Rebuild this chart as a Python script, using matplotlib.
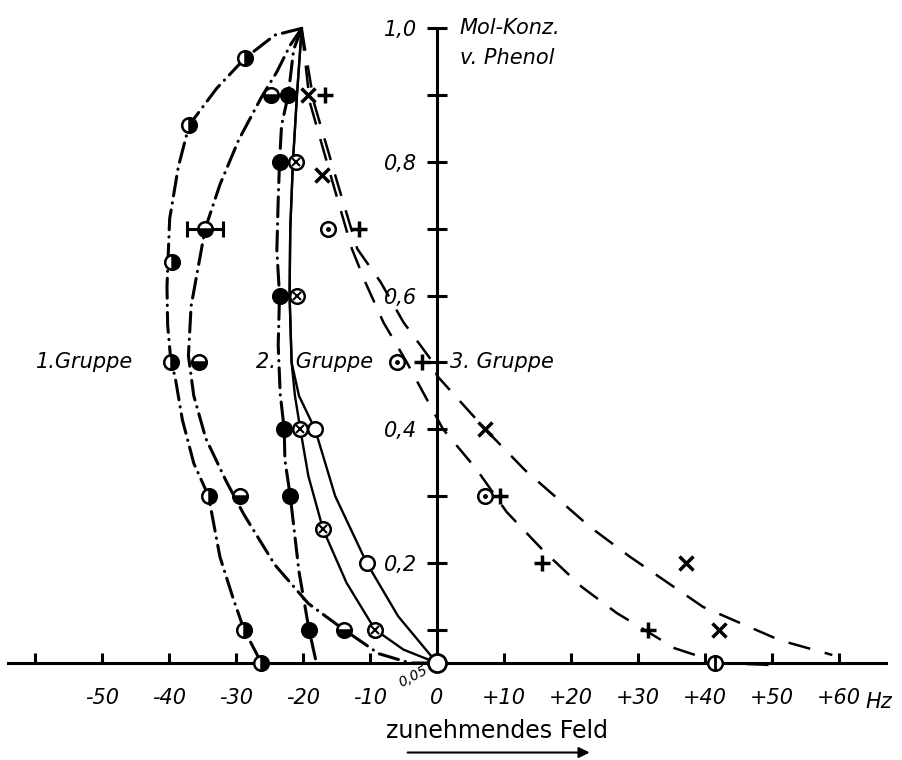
import matplotlib
matplotlib.use("Agg")
import matplotlib.pyplot as plt
from matplotlib.ticker import FixedLocator

plt.rcParams['font.family'] = ['Liberation Sans Narrow', 'DejaVu Sans']

# --- 1. Gruppe, outer curve (half filled right) ---
g1a_x = [-28.7, -37.0, -39.6, -39.7, -34.1, -28.8, -26.2]
g1a_y = [0.955, 0.855, 0.65, 0.5, 0.3, 0.1, 0.05]
g1a_cx = [-20.2, -24.2, -28.7, -32.9, -37.0, -38.6, -39.9, -40.3, -40.2, -39.7, -39.1, -38.0, -36.3, -34.1, -32.4, -30.4, -28.8, -26.2]
g1a_cy = [1.0, 0.99, 0.955, 0.91, 0.855, 0.793, 0.715, 0.613, 0.556, 0.5, 0.479, 0.414, 0.349, 0.3, 0.209, 0.146, 0.1, 0.05]

# --- 1. Gruppe, inner curve (half filled bottom) ---
g1b_x = [-24.7, -34.6, -35.5, -29.4, -13.9]
g1b_y = [0.9, 0.7, 0.5, 0.3, 0.1]
g1b_err = 2.7
g1b_cx = [-20.2, -21.9, -23.9, -26.2, -29.6, -32.4, -34.6, -35.4, -36.7, -37.1, -36.3, -34.5, -31.4, -28.8, -24.2, -19.2, -13.9, -8.7, -4.0, -0.5]
g1b_cy = [1.0, 0.975, 0.935, 0.897, 0.833, 0.766, 0.70, 0.656, 0.584, 0.51, 0.45, 0.386, 0.321, 0.272, 0.197, 0.139, 0.1, 0.064, 0.05, 0.05]

# --- 2. Gruppe, filled circles ---
g2a_x = [-22.2, -23.5, -23.5, -22.8, -21.9, -19.1]
g2a_y = [0.9, 0.8, 0.6, 0.4, 0.3, 0.1]
g2a_cx = [-20.2, -21.4, -22.2, -23.2, -23.5, -23.7, -23.9, -23.5, -23.7, -23.4, -22.8, -22.7, -21.9, -20.6, -19.1, -18.0]
g2a_cy = [1.0, 0.968, 0.9, 0.855, 0.8, 0.743, 0.668, 0.6, 0.526, 0.453, 0.4, 0.354, 0.3, 0.187, 0.1, 0.05]

# --- 2. Gruppe, crossed circles ---
g2b_x = [-21.0, -20.9, -20.4, -17.0, -9.25]
g2b_y = [0.8, 0.6, 0.4, 0.25, 0.1]
g2b_cx = [-20.2, -20.9, -21.5, -21.9, -22.0, -21.7, -21.2, -20.4, -19.2, -17.0, -13.5, -9.25, -5.0, 0.0]
g2b_cy = [1.0, 0.9, 0.8, 0.7, 0.6, 0.5, 0.45, 0.4, 0.33, 0.25, 0.17, 0.1, 0.07, 0.05]

# --- 2. Gruppe, open circles ---
g2c_x = [-18.2, -10.5, 0.0]
g2c_y = [0.4, 0.2, 0.05]
g2c_cx = [-20.2, -20.9, -21.5, -21.9, -22.0, -21.7, -20.6, -18.2, -15.2, -10.5, -5.8, 0.0]
g2c_cy = [1.0, 0.9, 0.8, 0.7, 0.6, 0.5, 0.45, 0.4, 0.3, 0.2, 0.12, 0.05]

# --- 3. Gruppe ---
g3x_x = [-19.2, -17.2, 7.2, 37.2, 42.1]
g3x_y = [0.9, 0.78, 0.4, 0.2, 0.1]
g3p_x = [-16.7, -11.7, -2.3, 9.4, 15.6, 31.5]
g3p_y = [0.9, 0.7, 0.5, 0.3, 0.2, 0.1]
g3o_x = [-16.2, -6.0, 7.2]
g3o_y = [0.7, 0.5, 0.3]
g3e_x = [41.5]
g3e_y = [0.05]
g3a_cx = [-20.2, -19.0, -15.3, -12.7, -10.7, -8.0, -4.5, 0.9, 5.9, 10.4, 15.8, 21.6, 26.8, 35.5, 42.2, 50.0]
g3a_cy = [1.0, 0.89, 0.76, 0.67, 0.62, 0.56, 0.5, 0.4, 0.34, 0.276, 0.219, 0.164, 0.125, 0.072, 0.05, 0.047]
g3b_cx = [-20.2, -18.4, -14.6, -11.9, -8.4, -5.0, -0.6, 0.0, 7.2, 13.1, 22.8, 28.8, 39.7, 51.2, 59.0]
g3b_cy = [1.0, 0.89, 0.76, 0.67, 0.62, 0.56, 0.5, 0.48, 0.4, 0.339, 0.254, 0.209, 0.134, 0.084, 0.062]

x_ticks = list(range(-60, 61, 10))
x_labels = ['', '-50', '-40', '-30', '-20', '-10', '0', '+10', '+20', '+30', '+40', '+50', '+60']
y_major = [0.2, 0.4, 0.6, 0.8, 1.0]
y_labels = ['0,2', '0,4', '0,6', '0,8', '1,0']
y_minor = [0.1, 0.3, 0.5, 0.7, 0.9]

fig = plt.figure(figsize=(9.02, 7.6), dpi=100)
ax = fig.add_axes([0, 0, 1, 1])
ax.set_xlim(-65.22, 69.4)
ax.set_ylim(-0.0952, 1.0425)

for s in ['top', 'right']:
    ax.spines[s].set_visible(False)
ax.spines['left'].set_position(('data', 0))
ax.spines['bottom'].set_position(('data', 0.05))
ax.spines['left'].set_bounds(0.05, 1.0)
ax.spines['bottom'].set_bounds(-64, 67)
ax.spines['left'].set_linewidth(2.2)
ax.spines['bottom'].set_linewidth(2.2)

ax.set_xticks(x_ticks)
ax.set_xticklabels(x_labels, style='italic', fontsize=15)
ax.tick_params(axis='x', direction='in', length=7, width=2.2, pad=18)
ax.set_yticks(y_major)
ax.set_yticklabels(y_labels, style='italic', fontsize=15)
ax.yaxis.set_minor_locator(FixedLocator(y_minor))
ax.tick_params(axis='y', which='both', direction='inout', length=14, width=2.2, pad=7)

dd = (0, (6.5, 2.3, 0.1, 2.3))
kw = dict(color='black', lw=2.2, dash_capstyle='round', zorder=2)
ax.plot(g1a_cx, g1a_cy, linestyle=dd, **kw)
ax.plot(g1b_cx, g1b_cy, linestyle=dd, **kw)
ax.plot(g2a_cx, g2a_cy, linestyle=dd, **kw)
ax.plot(g2b_cx, g2b_cy, color='black', lw=1.7, zorder=2)
ax.plot(g2c_cx, g2c_cy, color='black', lw=1.7, zorder=2)
ax.plot(g3a_cx, g3a_cy, linestyle=(0, (9, 6)), color='black', lw=1.8, zorder=2)
ax.plot(g3b_cx, g3b_cy, linestyle=(0, (9, 6)), color='black', lw=1.8, zorder=2)

mk = dict(linestyle='none', color='black', markersize=10.5, markeredgewidth=1.8, zorder=4)
ax.plot(g1a_x, g1a_y, marker='o', fillstyle='right', markerfacecoloralt='white', **mk)
ax.errorbar([g1b_x[1]], [g1b_y[1]], xerr=g1b_err, fmt='none', ecolor='black', elinewidth=2.2, capsize=6, capthick=2.2, zorder=3)
ax.plot(g1b_x, g1b_y, marker='o', fillstyle='bottom', markerfacecoloralt='white', **mk)
ax.plot(g2a_x, g2a_y, marker='o', **mk)
ax.plot(g2b_x, g2b_y, marker='o', markerfacecolor='white', **mk)
ax.plot(g2b_x, g2b_y, marker='x', linestyle='none', color='black', markersize=6, markeredgewidth=1.5, zorder=5)
ax.plot(g2c_x[:-1], g2c_y[:-1], marker='o', markerfacecolor='white', **mk)
ax.plot(g2c_x[-1:], g2c_y[-1:], marker='o', linestyle='none', color='black', markerfacecolor='white', markersize=13, markeredgewidth=2, zorder=4)
ax.plot(g3x_x, g3x_y, marker='x', linestyle='none', color='black', markersize=10, markeredgewidth=2.5, zorder=4)
ax.plot(g3p_x, g3p_y, marker='+', linestyle='none', color='black', markersize=12, markeredgewidth=2.5, zorder=4)
ax.plot(g3o_x, g3o_y, marker='o', markerfacecolor='white', **mk)
ax.plot(g3o_x, g3o_y, marker='.', linestyle='none', color='black', markersize=5, zorder=5)
ax.plot(g3e_x, g3e_y, marker='o', markerfacecolor='white', **mk)
ax.plot(g3e_x, g3e_y, marker='|', linestyle='none', color='black', markersize=10, markeredgewidth=2, zorder=5)

tk = dict(style='italic', fontsize=15, color='black')
ax.text(3.4, 1.0, 'Mol-Konz.', ha='left', va='center', **tk)
ax.text(3.4, 0.955, 'v. Phenol', ha='left', va='center', **tk)
ax.text(-59.8, 0.5, '1.Gruppe', ha='left', va='center', **tk)
ax.text(-27.0, 0.5, '2.   Gruppe', ha='left', va='center', **tk)
ax.text(1.9, 0.5, '3. Gruppe', ha='left', va='center', **tk)
ax.text(66.0, -0.009, 'Hz', ha='center', va='center', **tk)
ax.text(-3.6, 0.03, '0,05', ha='center', va='center', rotation=28, style='italic', fontsize=10, zorder=6)
ax.text(9.0, -0.052, 'zunehmendes Feld', ha='center', va='center', fontsize=17)
ax.annotate('', xy=(23.2, -0.084), xytext=(-4.8, -0.084),
            arrowprops=dict(arrowstyle='-|>', color='black', lw=1.5, mutation_scale=16))

fig.savefig('out.png', dpi=100)
